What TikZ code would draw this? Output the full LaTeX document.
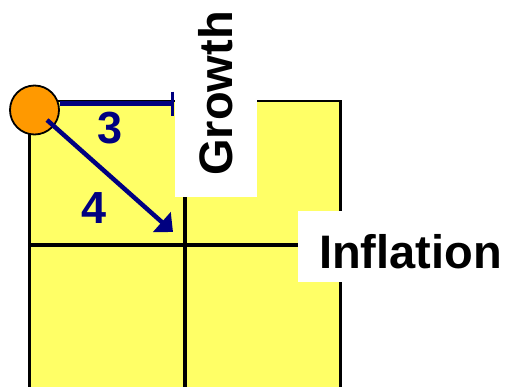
\documentclass[tikz,border=0pt]{standalone}
\usepackage{fontspec}
\setmainfont{Liberation Sans}
\usetikzlibrary{arrows.meta}
\definecolor{padyellow}{HTML}{FFFF66}
\definecolor{ballorange}{HTML}{FF9900}
\definecolor{movenavy}{HTML}{000080}
\tikzset{
  axislabel/.style={fill=white, inner sep=0pt, font=\fontsize{47}{47}\selectfont\bfseries},
  steplabel/.style={text=movenavy, inner sep=0pt, font=\fontsize{45}{45}\selectfont\bfseries},
  move/.style={movenavy, line width=4.5pt},
}
\begin{document}
\begin{tikzpicture}[x=1pt,y=-1pt]
    \useasboundingbox (0,0) rectangle (509,386);
    \clip (0,0) rectangle (509,386);
    % Grid
    \fill[padyellow] (29.5,101) rectangle (340.5,400);
    \draw[line width=4pt] (185,101) -- (185,400);
    \draw[line width=4pt] (29.5,244.5) -- (340.5,244.5);
    \draw[line width=2.6pt] (29.5,400) -- (29.5,101) -- (340.5,101) -- (340.5,400);
    % Axis labels
    \node[axislabel, rotate=90, minimum width=207pt, minimum height=82pt] (growth) at (216,93.5) {Growth};
    \node[axislabel, minimum height=71pt, inner xsep=21pt, text height=43pt, text depth=0pt] (inflation) at (410.5,246.5) {Inflation};
    % Ball and moves
    \node[circle, fill=ballorange, draw=black, line width=1.8pt, minimum size=49pt, inner sep=0pt] (ball) at (34.5,110) {};
    \coordinate (tick) at (174,103.5);
    \draw[move, -{Bar[width=24pt,line width=3pt]}] (ball.east |- tick) -- (tick);
    \coordinate (start) at (47,120);
    \coordinate (target) at (173,232);
    \draw[move, -{Triangle[length=15pt,width=26pt]}] (start) -- (target);
    \node[steplabel] (three) at (110,128) {3};
    \node[steplabel] (four) at (94,208) {4};
\end{tikzpicture}
\end{document}
